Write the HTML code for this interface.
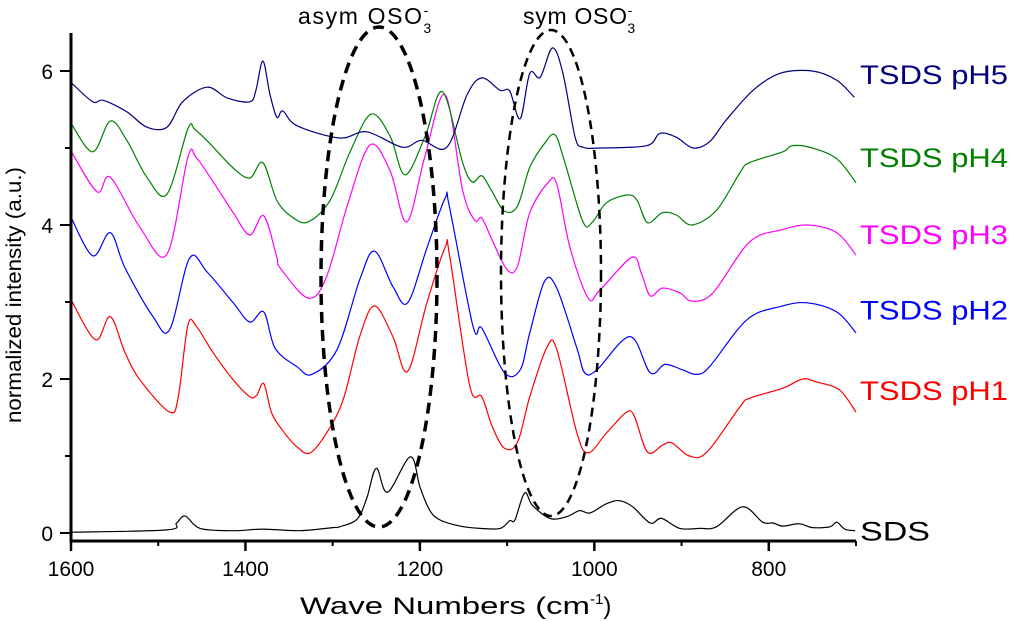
<!DOCTYPE html>
<html><head><meta charset="utf-8"><style>
body{margin:0;background:#fff}
svg{display:block;font-family:"Liberation Sans",Arial,sans-serif}
</style></head><body>
<svg id="chart" width="1024" height="621" viewBox="0 0 1024 621">
<g id="series"></g>
<g id="axes"></g>
<ellipse cx="379" cy="277" rx="58" ry="250" fill="none" stroke="#000" stroke-width="3.5" stroke-dasharray="11,7"/>
<ellipse cx="551" cy="273" rx="50" ry="243" fill="none" stroke="#000" stroke-width="2.5" stroke-dasharray="9,6"/>
<text x="298" y="24" font-size="23"><tspan textLength="124">asym OSO</tspan><tspan font-size="14" dy="-9">-</tspan><tspan font-size="14" dx="-5" dy="18">3</tspan></text>
<text x="523" y="24" font-size="23"><tspan textLength="104">sym OSO</tspan><tspan font-size="14" dy="-9">-</tspan><tspan font-size="14" dx="-5" dy="18">3</tspan></text>
<g id="labels" font-size="27"></g>
<text transform="translate(21,295) rotate(-90)" text-anchor="middle" font-size="21" textLength="256" lengthAdjust="spacingAndGlyphs">normalized intensity (a.u.)</text>
<text x="300" y="614" font-size="24"><tspan textLength="290" lengthAdjust="spacingAndGlyphs">Wave Numbers (cm</tspan><tspan font-size="15" dy="-10">-1</tspan><tspan dy="10">)</tspan></text>
</svg>
<script>
const xTicks=[1600,1400,1200,1000,800];
const xMinor=[1500,1300,1100,900];
const yTicks=[0,2,4,6];
const yMinor=[1,3,5];
const sdsX=[1599,1490,1479,1469,1452,1414,1380,1338,1300,1292,1272,1261,1250,1237,1211,1200,1189,1177,1154,1131,1108,1097,1091,1080,1071,1051,1032,1017,1005,986,971,956,936,923,902,879,860,830,807,795,784,765,750,730,722,713,701];
const sdsY=[0.01,0.04,0.13,0.22,0.06,0.03,0.05,0.03,0.07,0.08,0.18,0.45,0.84,0.53,0.99,0.60,0.30,0.17,0.09,0.06,0.06,0.16,0.17,0.52,0.36,0.19,0.21,0.29,0.26,0.38,0.42,0.34,0.13,0.19,0.06,0.06,0.08,0.34,0.14,0.13,0.09,0.12,0.07,0.08,0.14,0.05,0.03];
const ph1X=[1600,1572,1555,1538,1521,1487,1477,1466,1456,1437,1414,1395,1387,1379,1370,1358,1341,1326,1307,1288,1269,1252,1231,1214,1192,1171,1166,1143,1129,1117,1103,1088,1074,1054,1043,1020,1007,986,963,954,939,922,911,891,871,833,822,784,761,745,719,700];
const ph1Y=[3.03,2.51,2.81,2.34,1.99,1.57,1.77,2.70,2.68,2.34,1.99,1.77,1.79,1.94,1.56,1.34,1.12,1.04,1.30,1.73,2.55,2.95,2.55,2.10,2.99,3.71,3.61,1.92,1.77,1.38,1.10,1.18,1.77,2.42,2.38,1.30,1.04,1.30,1.57,1.51,1.05,1.14,1.17,1.00,1.05,1.64,1.75,1.88,2.00,1.96,1.86,1.57];
const ph2X=[1600,1575,1555,1538,1506,1487,1464,1444,1414,1395,1379,1366,1341,1324,1295,1269,1252,1231,1214,1192,1171,1166,1139,1129,1103,1085,1074,1057,1043,1020,1011,997,959,936,919,899,883,868,825,787,756,722,700];
const ph2Y=[4.10,3.60,3.90,3.44,2.81,2.64,3.57,3.39,2.99,2.74,2.87,2.40,2.16,2.06,2.38,3.29,3.66,3.20,2.99,3.70,4.35,4.23,2.68,2.66,2.08,2.12,2.60,3.27,3.18,2.40,2.08,2.12,2.55,2.08,2.19,2.12,2.06,2.16,2.77,2.94,2.99,2.87,2.60];
const ph3X=[1599,1570,1555,1521,1490,1466,1456,1433,1414,1395,1379,1364,1360,1328,1307,1282,1257,1234,1215,1194,1171,1151,1137,1129,1117,1100,1088,1074,1053,1043,1028,1007,994,957,946,936,922,902,888,864,822,784,755,722,700];
const ph3Y=[4.94,4.43,4.62,3.97,3.62,4.88,4.87,4.49,4.16,3.87,4.12,3.58,3.44,3.05,3.33,4.30,5.04,4.70,4.04,4.90,5.69,4.45,4.06,4.09,3.80,3.42,3.47,4.16,4.55,4.53,3.71,3.05,3.15,3.58,3.37,3.08,3.18,3.12,3.01,3.12,3.78,3.94,4.00,3.90,3.61];
const ph4X=[1599,1575,1555,1536,1513,1490,1466,1458,1441,1414,1395,1380,1364,1346,1328,1303,1280,1256,1234,1217,1194,1174,1151,1140,1129,1118,1103,1088,1074,1057,1045,1034,1013,1002,986,962,951,939,922,906,888,860,833,822,784,773,750,722,700];
const ph4Y=[5.30,4.95,5.35,5.10,4.62,4.40,5.25,5.24,5.06,4.74,4.61,4.81,4.32,4.10,4.04,4.32,4.95,5.44,5.15,4.65,5.15,5.73,4.81,4.56,4.64,4.45,4.18,4.25,4.75,5.06,5.17,4.82,4.04,4.04,4.29,4.39,4.32,4.03,4.16,4.13,4.00,4.19,4.68,4.81,4.95,5.03,5.00,4.86,4.55];
const ph5X=[1599,1575,1563,1536,1513,1490,1472,1444,1421,1395,1388,1380,1372,1364,1357,1341,1292,1261,1220,1198,1169,1146,1129,1108,1097,1085,1074,1062,1048,1036,1022,1013,994,940,925,906,887,868,849,818,787,750,722,702];
const ph5Y=[5.84,5.60,5.62,5.47,5.27,5.27,5.60,5.79,5.65,5.60,5.75,6.13,5.70,5.40,5.48,5.29,5.13,5.21,5.01,5.10,5.01,5.69,5.91,5.75,5.74,5.38,5.97,5.92,6.30,5.97,5.14,5.01,5.00,5.03,5.19,5.14,5.00,5.08,5.36,5.75,5.97,6.00,5.88,5.66];
const seriesNames=["SDS","TSDS pH1","TSDS pH2","TSDS pH3","TSDS pH4","TSDS pH5"];
const labelY=[0.03,1.86,2.9,3.88,4.88,5.96];
const labelW=[70,148,148,148,148,148];

const X0=71,X1=856,Y0=533,YPER=77;
function sx(w){return X0+(1600-w)*(X1-X0)/900;}
function sy(v){return Y0-v*YPER;}
const NS="http://www.w3.org/2000/svg";
const svg=document.getElementById('chart');
const sg=document.getElementById('series'), ag=document.getElementById('axes'), lg=document.getElementById('labels');
function mk(t,a,p){const e=document.createElementNS(NS,t);for(const k in a)e.setAttribute(k,a[k]);(p||svg).appendChild(e);return e;}
function smoothPath(xs,ys){
 const p=xs.map((x,i)=>[sx(x),sy(ys[i])]);
 let d="M"+p[0][0].toFixed(1)+","+p[0][1].toFixed(1);
 for(let i=0;i<p.length-1;i++){
  const p0=p[Math.max(0,i-1)],p1=p[i],p2=p[i+1],p3=p[Math.min(p.length-1,i+2)];
  const c1=[p1[0]+(p2[0]-p0[0])/6,p1[1]+(p2[1]-p0[1])/6];
  const c2=[p2[0]-(p3[0]-p1[0])/6,p2[1]-(p3[1]-p1[1])/6];
  d+=" C"+c1[0].toFixed(1)+","+c1[1].toFixed(1)+" "+c2[0].toFixed(1)+","+c2[1].toFixed(1)+" "+p2[0].toFixed(1)+","+p2[1].toFixed(1);
 }
 return d;
}
const all=[[sdsX,sdsY,"#000"],[ph1X,ph1Y,"#ff0000"],[ph2X,ph2Y,"#0000ff"],[ph3X,ph3Y,"#ff00ff"],[ph4X,ph4Y,"#008000"],[ph5X,ph5Y,"#000080"]];
const names=["sds-line","ph1-line","ph2-line","ph3-line","ph4-line","ph5-line"];
all.forEach((s,i)=>{
 const el=mk('path',{d:smoothPath(s[0],s[1]),fill:"none",stroke:s[2],"stroke-width":1.2},sg);
 
 
 const t=mk('text',{x:860,y:sy(labelY[i])+10,fill:s[2],textLength:labelW[i],lengthAdjust:"spacingAndGlyphs"},lg);
 t.textContent=seriesNames[i];
 
 
});
const yl=mk('line',{x1:X0,y1:33,x2:X0,y2:542,stroke:"#000","stroke-width":3},ag);


const xl=mk('line',{x1:X0-1.5,y1:541,x2:X1,y2:541,stroke:"#000","stroke-width":3},ag);


xTicks.forEach(w=>{
 mk('line',{x1:sx(w),y1:541,x2:sx(w),y2:551,stroke:"#000","stroke-width":2.5},ag);
 const t=mk('text',{x:sx(w),y:576,"text-anchor":"middle","font-size":21},ag);
 t.textContent=w;
 
 
});
xMinor.forEach(w=>{mk('line',{x1:sx(w),y1:541,x2:sx(w),y2:546,stroke:"#000","stroke-width":2},ag);});
mk('line',{x1:X1,y1:541,x2:X1,y2:546,stroke:"#000","stroke-width":2},ag);
yTicks.forEach(v=>{
 mk('line',{x1:X0-11,y1:sy(v),x2:X0,y2:sy(v),stroke:"#000","stroke-width":2},ag);
 const t=mk('text',{x:X0-18,y:sy(v)+8,"text-anchor":"end","font-size":21},ag);
 t.textContent=v;
 
 
});
yMinor.forEach(v=>{mk('line',{x1:X0-6,y1:sy(v),x2:X0,y2:sy(v),stroke:"#000","stroke-width":2},ag);});
</script>
</body></html>
